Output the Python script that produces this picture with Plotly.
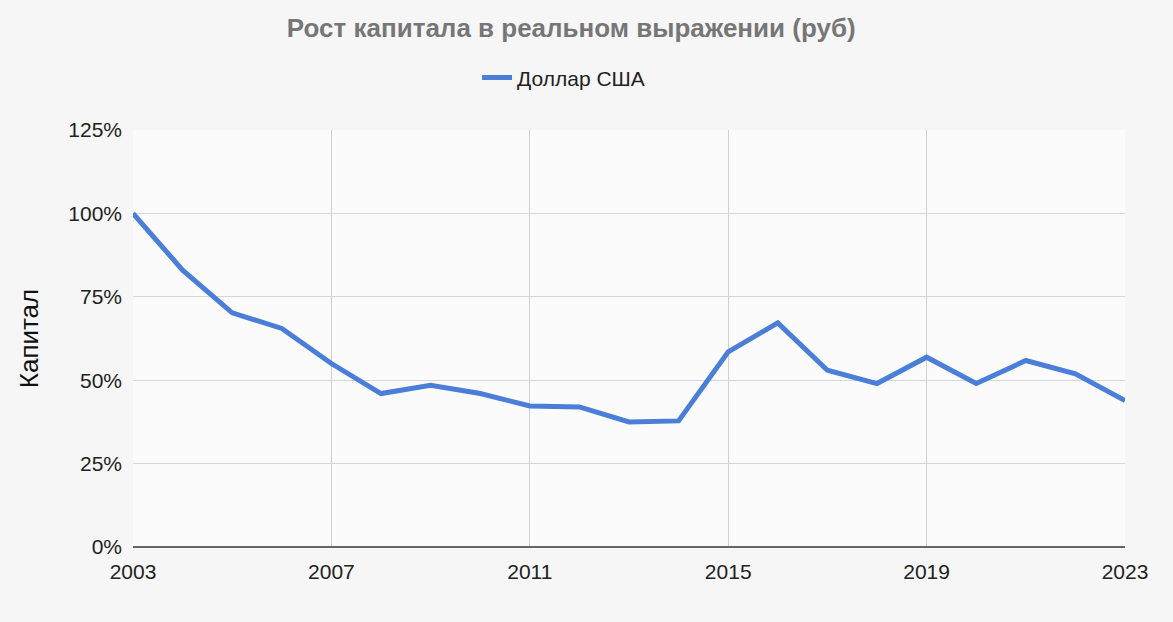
import plotly.graph_objects as go

years = list(range(2003, 2024))
usd = [100, 83, 70.2, 65.5, 55, 46, 48.5, 46, 42.3, 42, 37.5, 37.8,
       58.5, 67.2, 53, 49, 56.9, 49, 55.9, 51.9, 43.9]
x_ticks = [2003, 2007, 2011, 2015, 2019, 2023]
y_ticks = [0, 25, 50, 75, 100, 125]
y_labels = ["0%", "25%", "50%", "75%", "100%", "125%"]

fig = go.Figure()
fig.add_trace(go.Scatter(
    x=years, y=usd, mode="lines", name="Доллар США",
    line=dict(color="#4a7ed8", width=5),
))

fig.update_layout(
    width=1173, height=622,
    paper_bgcolor="#f6f6f6", plot_bgcolor="#fbfbfb",
    margin=dict(l=133, r=48, t=130, b=75),
    font=dict(family="Liberation Sans, Arial, sans-serif", size=21, color="#222"),
    title=dict(text="<b>Рост капитала в реальном выражении (руб)</b>",
               x=0.487, xanchor="center", y=0.955, yanchor="middle",
               font=dict(size=26, color="#767676")),
    legend=dict(orientation="h", x=0.434, xanchor="center", y=1.125, yanchor="middle",
                bgcolor="rgba(0,0,0,0)", font=dict(size=21, color="#222"),
                itemwidth=30),
    showlegend=True,
)
fig.update_xaxes(range=[2003, 2023], tickvals=x_ticks, ticktext=[str(v) for v in x_ticks],
                 showgrid=True, gridcolor="#cfcfcf", gridwidth=1, zeroline=False,
                 showline=False, ticks="", ticklen=0, ticklabelstandoff=10,
                 tickfont=dict(size=21, color="#222"))
fig.update_yaxes(range=[0, 125], tickvals=y_ticks, ticktext=y_labels,
                 showgrid=True, gridcolor="#d6d6d6", gridwidth=1,
                 zeroline=True, zerolinecolor="#666", zerolinewidth=2,
                 showline=False, ticks="", ticklabelstandoff=10,
                 tickfont=dict(size=21, color="#222"),
                 title=dict(text="Капитал", font=dict(size=26, color="#111"), standoff=22))

fig.write_html("out.html")
